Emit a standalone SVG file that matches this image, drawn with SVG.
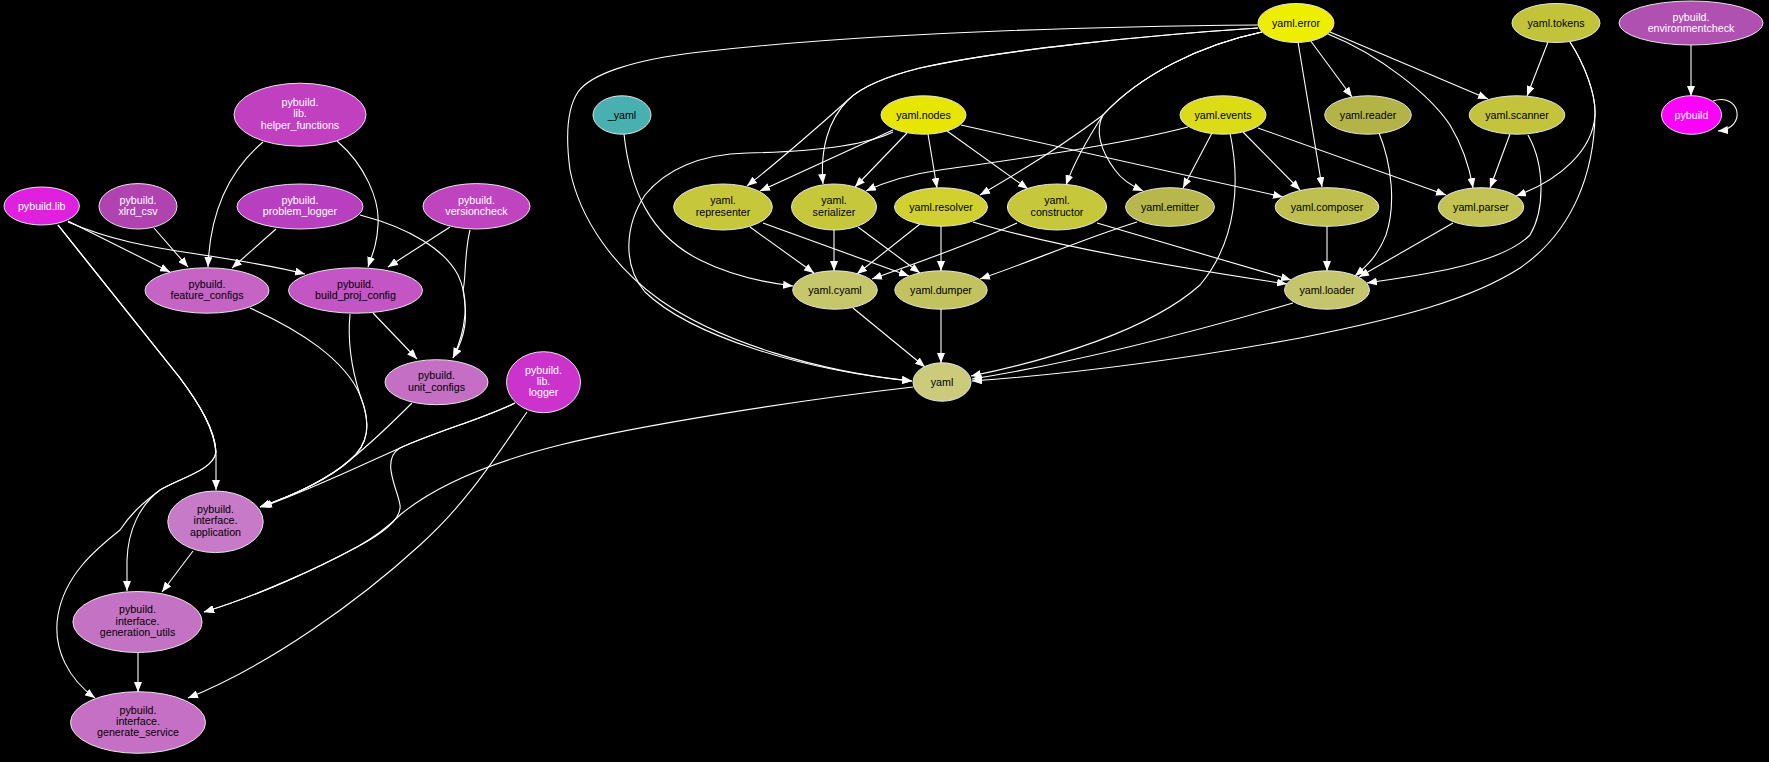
<svg xmlns="http://www.w3.org/2000/svg" width="1769" height="762" viewBox="0 0 1769 762">
<defs>
<marker id="ah" markerWidth="10" markerHeight="8" refX="10" refY="4" orient="auto" markerUnits="userSpaceOnUse"><path d="M0,0 L10,4 L0,8 z" fill="#ffffff"/></marker>
<style>
.e{fill:none;stroke:#ffffff;stroke-width:1.1;marker-end:url(#ah)}
.n ellipse{stroke:#e4e4e4;stroke-width:1}
.n text{font-family:"Liberation Sans",Arial,sans-serif;font-size:10.7px;text-anchor:middle}
.d text{fill:#000000}
.w text{fill:#ffffff}
</style>
</defs>
<rect x="0" y="0" width="1769" height="762" fill="#000000"/>
<g id="edges">
<!-- pybuild side -->
<path class="e" d="M263,142 C230,170 210,210 208,267"/>
<path class="e" d="M337,141 C365,165 380,200 378,225 C377,245 372,255 368,267"/>
<path class="e" d="M68,221 L170,272"/>
<path class="e" d="M68,222 C110,240 150,247 190,253 C230,259 270,265 305,274"/>
<path class="e" d="M154,228 L188,267"/>
<path class="e" d="M276,229 L232,268"/>
<path class="e" d="M360,215 C410,228 445,250 458,275 C470,300 466,330 453,358"/>
<path class="e" d="M470,230 C464,255 466,280 463,290 C468,318 466,335 453,358"/>
<path class="e" d="M450,227 L388,267"/>
<path class="e" d="M373,313 L417,359"/>
<path class="e" d="M250,308 C300,330 345,360 360,395 C372,425 368,445 350,460 C330,478 295,495 260,507"/>
<path class="e" d="M350,314 C347,345 352,370 360,395 C372,425 368,445 350,460 C330,478 295,495 260,507"/>
<path class="e" d="M412,403 C395,420 375,440 350,460 C330,478 295,495 260,507"/>
<path class="e" d="M515,403 C480,420 440,430 400,448 C360,466 310,490 262,507"/>
<path class="e" d="M515,403 C480,420 440,430 400,448 C380,460 398,490 400,505 C402,520 380,535 357,547 C320,567 260,595 204,612"/>
<path class="e" d="M913,387 C800,400 640,425 560,445 C480,465 430,490 400,515 C390,525 375,537 357,547 C320,567 260,595 204,612"/>
<path class="e" d="M527,412 C500,450 470,500 420,545 C360,600 270,665 188,698"/>
<path class="e" d="M58,225 L180,378 C200,405 215,430 216,455 L216,490"/>
<path class="e" d="M58,225 L180,378 C200,405 215,430 216,452 C214,470 180,478 160,490 C140,505 128,530 127,560 L127,591"/>
<path class="e" d="M58,225 L180,378 C200,405 215,430 216,452 C214,470 180,478 160,490 C140,505 130,515 120,530 C95,550 65,575 58,615 C52,650 70,680 95,698"/>
<path class="e" d="M193,551 L162,592"/>
<path class="e" d="M138,653 L138,692"/>
<!-- yaml side -->
<path class="e" d="M1258,25 C1050,27 850,35 700,52 C630,60 590,75 578,92 C566,110 566,140 570,170 C580,220 615,268 660,300 C720,342 820,372 912,381"/>
<path class="e" d="M893,132 C860,148 800,152 747,153 C700,154 665,170 645,195 C625,225 622,265 645,292 C690,335 800,370 912,381"/>
<path class="e" d="M1258,28 C1150,35 1000,50 920,68 C880,78 860,88 848,100 C828,120 820,150 823,184"/>
<path class="e" d="M1258,28 C1150,35 1000,50 920,68 C880,78 860,88 848,100 C820,125 780,160 747,186"/>
<path class="e" d="M1262,32 C1200,45 1140,75 1103,115 C1070,140 1020,172 980,195"/>
<path class="e" d="M1262,32 C1200,45 1140,75 1103,115 C1090,135 1075,160 1066,185"/>
<path class="e" d="M1262,32 C1200,45 1140,75 1103,115 C1095,130 1100,150 1115,170 C1122,180 1132,186 1143,191"/>
<path class="e" d="M1298,42 L1322,187"/>
<path class="e" d="M1310,40 L1352,97"/>
<path class="e" d="M1330,32 L1488,99"/>
<path class="e" d="M1328,34 C1380,55 1430,95 1450,125 C1465,150 1470,170 1473,188"/>
<path class="e" d="M1548,42 L1527,96"/>
<path class="e" d="M1570,42 C1585,65 1596,95 1595,115 C1593,150 1560,180 1516,196"/>
<path class="e" d="M1570,42 C1585,65 1596,95 1595,115 C1594,170 1575,230 1520,268 C1470,300 1400,318 1300,338 C1180,360 1070,374 972,381"/>
<path class="e" d="M1230,133 C1240,180 1238,240 1200,285 C1150,330 1050,360 971,376"/>
<path class="e" d="M1293,303 C1200,330 1080,362 972,379"/>
<path class="e" d="M853,308 L925,367"/>
<path class="e" d="M941,309 L941,363"/>
<path class="e" d="M624,134 C630,190 650,235 700,260 C730,275 760,282 793,286"/>
<path class="e" d="M893,130 L760,191"/>
<path class="e" d="M907,133 L855,187"/>
<path class="e" d="M928,134 L937,188"/>
<path class="e" d="M947,131 L1028,189"/>
<path class="e" d="M961,125 L1283,197"/>
<path class="e" d="M1188,127 C1120,145 1010,160 940,170 C905,175 885,182 866,191"/>
<path class="e" d="M1212,133 L1183,188"/>
<path class="e" d="M1243,132 L1300,190"/>
<path class="e" d="M1258,128 L1446,195"/>
<path class="e" d="M1379,133 C1392,165 1396,205 1386,235 C1378,255 1368,265 1355,276"/>
<path class="e" d="M1510,134 L1490,188"/>
<path class="e" d="M1528,135 C1545,165 1545,210 1530,235 C1500,265 1420,275 1367,283"/>
<path class="e" d="M1453,223 L1359,277"/>
<path class="e" d="M1327,226 L1327,271"/>
<path class="e" d="M750,227 L814,273"/>
<path class="e" d="M763,223 L909,276"/>
<path class="e" d="M834,230 L834,271"/>
<path class="e" d="M858,227 L920,273"/>
<path class="e" d="M920,224 L857,274"/>
<path class="e" d="M941,226 L941,271"/>
<path class="e" d="M973,222 C1050,245 1180,268 1287,284"/>
<path class="e" d="M1017,223 C980,240 920,262 872,279"/>
<path class="e" d="M1097,223 L1291,280"/>
<path class="e" d="M1137,222 C1080,240 1030,262 980,279"/>
<path class="e" d="M1691,45 L1691,96"/>
<path class="e" d="M1713,101 C1740,92 1748,128 1718,131"/>
</g>
<g id="n_yaml_error" class="n d"><ellipse cx="1296" cy="23" rx="38" ry="19.5" fill="#eeee00"/><text x="1296" y="26.8">yaml.error</text></g>
<g id="n_yaml_tokens" class="n d"><ellipse cx="1556" cy="23" rx="44" ry="19.5" fill="#c3c33a"/><text x="1556" y="26.8">yaml.tokens</text></g>
<g id="n_pybuild_environmentcheck" class="n w"><ellipse cx="1691" cy="23" rx="72" ry="22" fill="#b050b0"/><text x="1691" y="21">pybuild.</text><text x="1691" y="32.3">environmentcheck</text></g>
<g id="n__yaml" class="n d"><ellipse cx="622" cy="115" rx="29" ry="19.2" fill="#48b0b0"/><text x="622" y="118.8">_yaml</text></g>
<g id="n_yaml_nodes" class="n d"><ellipse cx="923.5" cy="115" rx="42.5" ry="19.2" fill="#e6e600"/><text x="923.5" y="118.8">yaml.nodes</text></g>
<g id="n_yaml_events" class="n d"><ellipse cx="1223" cy="115" rx="43" ry="19.2" fill="#dcdc16"/><text x="1223" y="118.8">yaml.events</text></g>
<g id="n_yaml_reader" class="n d"><ellipse cx="1368" cy="115" rx="43.3" ry="19.2" fill="#b3b348"/><text x="1368" y="118.8">yaml.reader</text></g>
<g id="n_yaml_scanner" class="n d"><ellipse cx="1517" cy="115" rx="47.8" ry="19.2" fill="#c3c33c"/><text x="1517" y="118.8">yaml.scanner</text></g>
<g id="n_pybuild" class="n w"><ellipse cx="1691.5" cy="115" rx="30" ry="19.3" fill="#ff00ff"/><text x="1691.5" y="118.8">pybuild</text></g>
<g id="n_yaml_representer" class="n d"><ellipse cx="723" cy="207" rx="49.3" ry="23" fill="#c7c73c"/><text x="723" y="204.2">yaml.</text><text x="723" y="215.5">representer</text></g>
<g id="n_yaml_serializer" class="n d"><ellipse cx="834" cy="207" rx="42.5" ry="23" fill="#c7c73c"/><text x="834" y="204.2">yaml.</text><text x="834" y="215.5">serializer</text></g>
<g id="n_yaml_resolver" class="n d"><ellipse cx="941" cy="207" rx="46.5" ry="19.2" fill="#d0d030"/><text x="941" y="210.8">yaml.resolver</text></g>
<g id="n_yaml_constructor" class="n d"><ellipse cx="1057" cy="207" rx="49.6" ry="23" fill="#c7c73c"/><text x="1057" y="204.2">yaml.</text><text x="1057" y="215.5">constructor</text></g>
<g id="n_yaml_emitter" class="n d"><ellipse cx="1170" cy="207" rx="44.4" ry="19.3" fill="#b7b74b"/><text x="1170" y="210.8">yaml.emitter</text></g>
<g id="n_yaml_composer" class="n d"><ellipse cx="1327" cy="207" rx="51.8" ry="19.3" fill="#bfbf50"/><text x="1327" y="210.8">yaml.composer</text></g>
<g id="n_yaml_parser" class="n d"><ellipse cx="1481" cy="207" rx="42.7" ry="19.3" fill="#c3c355"/><text x="1481" y="210.8">yaml.parser</text></g>
<g id="n_yaml_cyaml" class="n d"><ellipse cx="835" cy="290" rx="42.3" ry="19.2" fill="#c6c66b"/><text x="835" y="293.8">yaml.cyaml</text></g>
<g id="n_yaml_dumper" class="n d"><ellipse cx="941" cy="290" rx="46.2" ry="19.2" fill="#c2c25e"/><text x="941" y="293.8">yaml.dumper</text></g>
<g id="n_yaml_loader" class="n d"><ellipse cx="1327" cy="290" rx="42.5" ry="19.2" fill="#c5c56d"/><text x="1327" y="293.8">yaml.loader</text></g>
<g id="n_yaml" class="n d"><ellipse cx="942" cy="382" rx="29" ry="19.2" fill="#cbcb7b"/><text x="942" y="385.8">yaml</text></g>
<g id="n_pybuild_lib_helper_functions" class="n w"><ellipse cx="300" cy="114.7" rx="66" ry="31.5" fill="#c040c0"/><text x="300" y="106">pybuild.</text><text x="300" y="117.3">lib.</text><text x="300" y="128.6">helper_functions</text></g>
<g id="n_pybuild_lib" class="n w"><ellipse cx="41.7" cy="206" rx="37.7" ry="19" fill="#e020e0"/><text x="41.7" y="209.8">pybuild.lib</text></g>
<g id="n_pybuild_xlrd_csv" class="n w"><ellipse cx="138" cy="206.3" rx="39" ry="22.7" fill="#b043b0"/><text x="138" y="203.5">pybuild.</text><text x="138" y="214.8">xlrd_csv</text></g>
<g id="n_pybuild_problem_logger" class="n w"><ellipse cx="300" cy="206.5" rx="63" ry="22.5" fill="#b840c0"/><text x="300" y="203.7">pybuild.</text><text x="300" y="215">problem_logger</text></g>
<g id="n_pybuild_versioncheck" class="n w"><ellipse cx="476.5" cy="206.3" rx="53.5" ry="22.7" fill="#c044c0"/><text x="476.5" y="203.5">pybuild.</text><text x="476.5" y="214.8">versioncheck</text></g>
<g id="n_pybuild_feature_configs" class="n d"><ellipse cx="207" cy="290.5" rx="62" ry="22.7" fill="#c564c5"/><text x="207" y="287.7">pybuild.</text><text x="207" y="299">feature_configs</text></g>
<g id="n_pybuild_build_proj_config" class="n d"><ellipse cx="355.5" cy="290.5" rx="67" ry="22.7" fill="#c455c4"/><text x="355.5" y="287.7">pybuild.</text><text x="355.5" y="299">build_proj_config</text></g>
<g id="n_pybuild_unit_configs" class="n d"><ellipse cx="436.5" cy="382.2" rx="51.5" ry="22.5" fill="#c46ec4"/><text x="436.5" y="379.4">pybuild.</text><text x="436.5" y="390.7">unit_configs</text></g>
<g id="n_pybuild_lib_logger" class="n w"><ellipse cx="543.5" cy="382.2" rx="37" ry="30.5" fill="#cc33cc"/><text x="543.5" y="373.5">pybuild.</text><text x="543.5" y="384.8">lib.</text><text x="543.5" y="396.1">logger</text></g>
<g id="n_pybuild_interface_application" class="n d"><ellipse cx="215.5" cy="521.8" rx="47.7" ry="30.8" fill="#c77ac7"/><text x="215.5" y="513.1">pybuild.</text><text x="215.5" y="524.4">interface.</text><text x="215.5" y="535.7">application</text></g>
<g id="n_pybuild_interface_generation_utils" class="n d"><ellipse cx="137.5" cy="622" rx="64.6" ry="30.5" fill="#c473c4"/><text x="137.5" y="613.3">pybuild.</text><text x="137.5" y="624.6">interface.</text><text x="137.5" y="635.9">generation_utils</text></g>
<g id="n_pybuild_interface_generate_service" class="n d"><ellipse cx="138" cy="722.5" rx="67.5" ry="30.8" fill="#c570c5"/><text x="138" y="713.8">pybuild.</text><text x="138" y="725.1">interface.</text><text x="138" y="736.4">generate_service</text></g>
</svg>
